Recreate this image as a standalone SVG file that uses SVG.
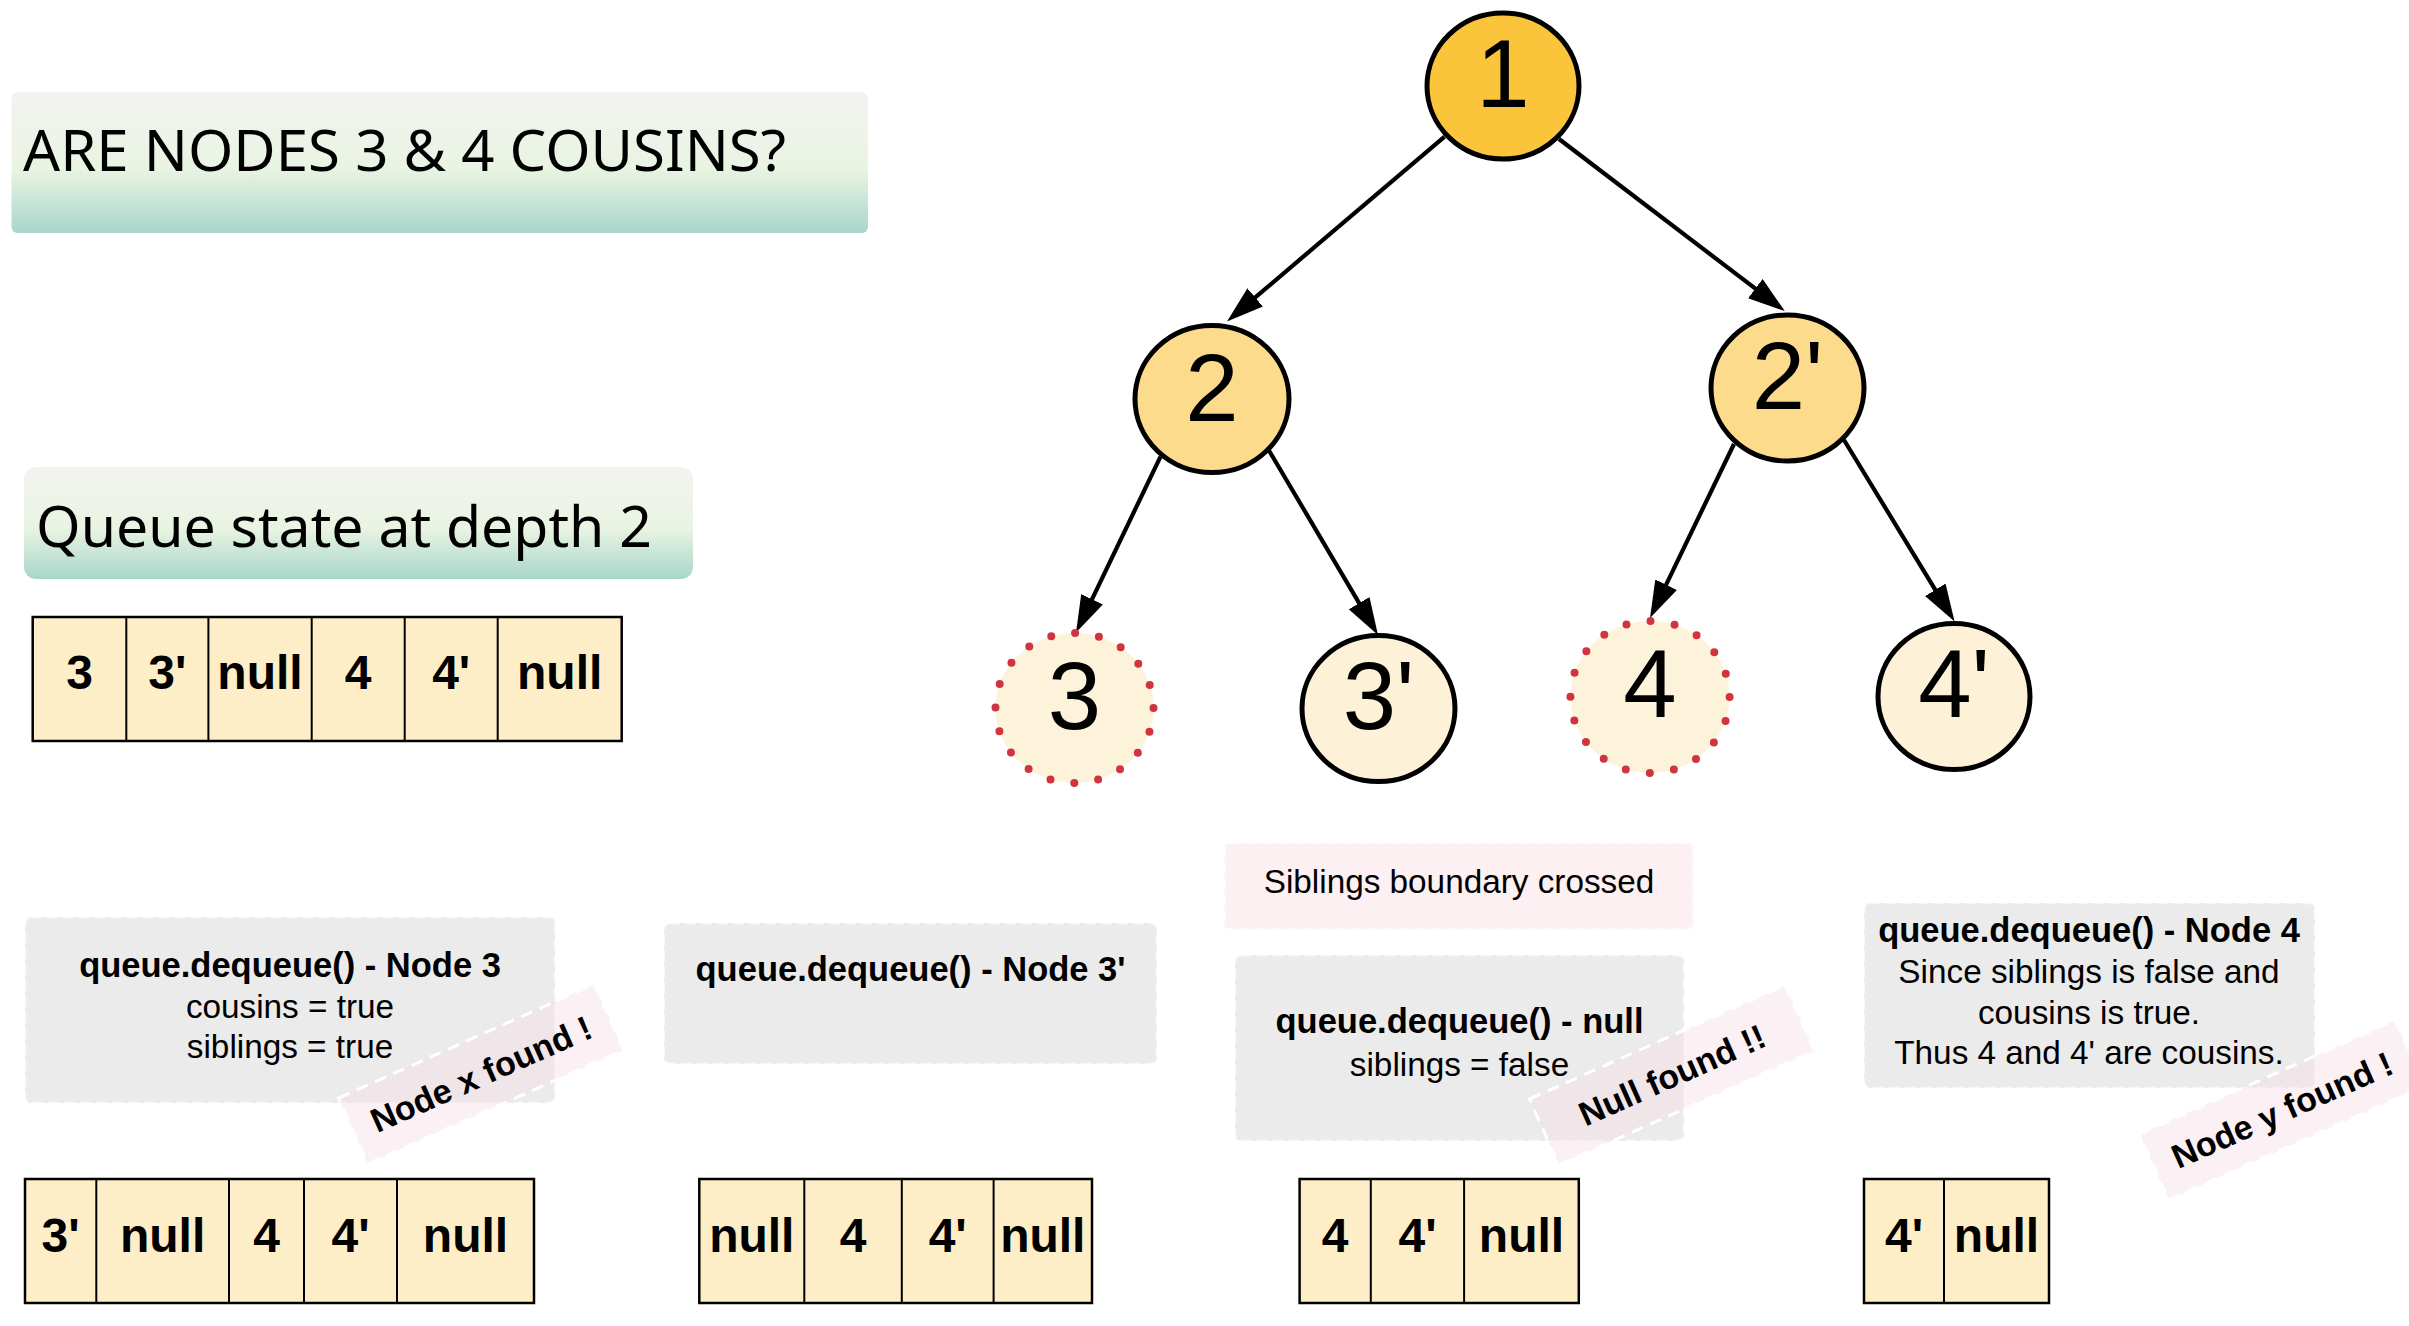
<svg xmlns="http://www.w3.org/2000/svg" width="2409" height="1326" viewBox="0 0 2409 1326">
<defs>
<linearGradient id="hdrGrad" x1="0" y1="0" x2="0" y2="1">
<stop offset="0" stop-color="#F3F3F1"/>
<stop offset="0.55" stop-color="#E9F4E2"/>
<stop offset="1" stop-color="#A7D6CB"/>
</linearGradient>
<marker id="arrow" markerUnits="userSpaceOnUse" markerWidth="38" markerHeight="24" viewBox="0 0 38 24" refX="29" refY="12" orient="auto">
<path d="M0,0 L37,12 L0,24 Z" fill="#000"/>
</marker>
</defs>
<style>
.hdr{font-family:"Noto Sans","Open Sans",sans-serif;font-size:56px;fill:#000}
.hdrbox{fill:url(#hdrGrad)}
.lbl{font-family:"Liberation Sans",Arial,sans-serif;font-size:96px;text-anchor:middle;fill:#000}
.solid{stroke:#000;stroke-width:5}
.dotted{fill:#FDF3DA;stroke:#D0343F;stroke-width:8;stroke-linecap:round}
.edge{stroke:#000;stroke-width:4.2;fill:none;marker-end:url(#arrow)}
.q rect{fill:#FDEEC8;stroke:#000;stroke-width:2.5}
.q line{stroke:#000;stroke-width:2}
.qt{font-family:"Liberation Sans",Arial,sans-serif;font-weight:bold;font-size:48px;text-anchor:middle;fill:#000}
.box{fill:#EBEBEB;stroke:#FFFFFF;stroke-opacity:0.7;stroke-width:2.5;stroke-dasharray:10 6}
.pinkbox{fill:#FCF0F3;stroke:#FFFFFF;stroke-opacity:0.7;stroke-width:2.5;stroke-dasharray:10 6}
.b{font-family:"Liberation Sans",Arial,sans-serif;font-weight:bold;font-size:34.5px;text-anchor:middle;fill:#000}
.r{font-family:"Liberation Sans",Arial,sans-serif;font-size:33.3px;text-anchor:middle;fill:#000}
.tag rect{fill:#F7DDE5;fill-opacity:0.45;stroke:#FFFFFF;stroke-width:3;stroke-dasharray:12 8}
.tag text{font-family:"Liberation Sans",Arial,sans-serif;font-weight:bold;font-size:34px;text-anchor:middle;fill:#000}
</style>

<rect width="2409" height="1326" fill="#FFFFFF"/>

<g id="title">
<rect class="hdrbox" x="11.5" y="92" width="856.5" height="141" rx="6"/>
<text class="hdr" x="23" y="171" textLength="763" lengthAdjust="spacingAndGlyphs">ARE NODES 3 &amp; 4 COUSINS?</text>
</g>

<g id="queue-state-title">
<rect class="hdrbox" x="24" y="467" width="669" height="112" rx="12"/>
<text class="hdr" x="36" y="547" textLength="616" lengthAdjust="spacingAndGlyphs">Queue state at depth 2</text>
</g>

<g id="connectors">
<line class="edge" x1="1444.6" y1="136.7" x2="1233.1" y2="316.2"/>
<line class="edge" x1="1559" y1="139" x2="1778.4" y2="306.2"/>
<line class="edge" x1="1160.5" y1="456.6" x2="1079.5" y2="625.4"/>
<line class="edge" x1="1269" y1="450.5" x2="1373.9" y2="628.1"/>
<line class="edge" x1="1734" y1="444" x2="1653.5" y2="610.8"/>
<line class="edge" x1="1844" y1="440" x2="1950.4" y2="614.6"/>
</g>

<g id="node-1">
<ellipse class="solid" cx="1503" cy="86" rx="76" ry="73" fill="#FBC53B"/>
<text class="lbl" x="1503" y="107">1</text>
</g>
<g id="node-2">
<ellipse class="solid" cx="1212" cy="399" rx="77" ry="73.5" fill="#FDDB8C"/>
<text class="lbl" x="1212" y="420.5">2</text>
</g>
<g id="node-2p">
<ellipse class="solid" cx="1787.5" cy="388" rx="76.5" ry="73" fill="#FDDB8C"/>
<text class="lbl" x="1787.5" y="409">2'</text>
</g>
<g id="node-3">
<ellipse class="dotted" cx="1074.5" cy="708" rx="79" ry="75" stroke-dasharray="0 24.195"/>
<text class="lbl" x="1074.5" y="729">3</text>
</g>
<g id="node-3p">
<ellipse class="solid" cx="1378.5" cy="708.6" rx="76.5" ry="73" fill="#FDF2D8"/>
<text class="lbl" x="1378.5" y="729">3'</text>
</g>
<g id="node-4">
<ellipse class="dotted" cx="1650" cy="697" rx="79.6" ry="76" stroke-dasharray="0 24.44"/>
<text class="lbl" x="1650" y="717">4</text>
</g>
<g id="node-4p">
<ellipse class="solid" cx="1954" cy="696.5" rx="76" ry="73" fill="#FDF2D8"/>
<text class="lbl" x="1954" y="717">4'</text>
</g>

<g id="queue-depth2" class="q">
<rect x="32.7" y="617" width="589" height="124"/>
<line x1="126.3" y1="617" x2="126.3" y2="741"/>
<line x1="208.4" y1="617" x2="208.4" y2="741"/>
<line x1="311.7" y1="617" x2="311.7" y2="741"/>
<line x1="404.7" y1="617" x2="404.7" y2="741"/>
<line x1="497.7" y1="617" x2="497.7" y2="741"/>
<text class="qt" x="79.5" y="689">3</text>
<text class="qt" x="167.4" y="689">3'</text>
<text class="qt" x="260" y="689">null</text>
<text class="qt" x="358.2" y="689">4</text>
<text class="qt" x="451.2" y="689">4'</text>
<text class="qt" x="559.7" y="689">null</text>
</g>

<g id="step-1">
<rect class="box" x="25" y="917" width="530" height="186" rx="6"/>
<text class="b" x="290" y="977">queue.dequeue() - Node 3</text>
<text class="r" x="290" y="1018">cousins = true</text>
<text class="r" x="290" y="1058">siblings = true</text>
</g>
<g id="step-2">
<rect class="box" x="664" y="923" width="493" height="141" rx="6"/>
<text class="b" x="910.5" y="981">queue.dequeue() - Node 3'</text>
</g>
<g id="siblings-note">
<rect class="pinkbox" x="1224.5" y="843" width="469" height="86.5" rx="4"/>
<text class="r" x="1459" y="893">Siblings boundary crossed</text>
</g>
<g id="step-3">
<rect class="box" x="1235" y="955" width="449" height="186" rx="6"/>
<text class="b" x="1459.5" y="1033">queue.dequeue() - null</text>
<text class="r" x="1459.5" y="1076">siblings = false</text>
</g>
<g id="step-4">
<rect class="box" x="1864" y="903" width="451" height="185" rx="6"/>
<text class="b" x="2089" y="942">queue.dequeue() - Node 4</text>
<text class="r" x="2089" y="983">Since siblings is false and</text>
<text class="r" x="2089" y="1023.5">cousins is true.</text>
<text class="r" x="2089" y="1064">Thus 4 and 4' are cousins.</text>
</g>

<g id="tag-x" class="tag" transform="translate(481,1074) rotate(-24)">
<rect x="-140" y="-36" width="280" height="72"/>
<text x="0" y="12">Node x found !</text>
</g>
<g id="tag-null" class="tag" transform="translate(1672,1075) rotate(-24)">
<rect x="-140" y="-36" width="280" height="72"/>
<text x="0" y="12">Null found !!</text>
</g>
<g id="tag-y" class="tag" transform="translate(2282,1110) rotate(-24)">
<rect x="-140" y="-36" width="280" height="72"/>
<text x="0" y="12">Node y found !</text>
</g>

<g id="queue-1" class="q">
<rect x="25" y="1179" width="509" height="124"/>
<line x1="96.3" y1="1179" x2="96.3" y2="1303"/>
<line x1="229" y1="1179" x2="229" y2="1303"/>
<line x1="304" y1="1179" x2="304" y2="1303"/>
<line x1="397" y1="1179" x2="397" y2="1303"/>
<text class="qt" x="60.6" y="1252">3'</text>
<text class="qt" x="162.6" y="1252">null</text>
<text class="qt" x="266.5" y="1252">4</text>
<text class="qt" x="350.5" y="1252">4'</text>
<text class="qt" x="465.5" y="1252">null</text>
</g>
<g id="queue-2" class="q">
<rect x="699.3" y="1179" width="392.7" height="124"/>
<line x1="804.3" y1="1179" x2="804.3" y2="1303"/>
<line x1="901.8" y1="1179" x2="901.8" y2="1303"/>
<line x1="993.6" y1="1179" x2="993.6" y2="1303"/>
<text class="qt" x="751.8" y="1252">null</text>
<text class="qt" x="853" y="1252">4</text>
<text class="qt" x="947.7" y="1252">4'</text>
<text class="qt" x="1042.8" y="1252">null</text>
</g>
<g id="queue-3" class="q">
<rect x="1299.6" y="1179" width="279.2" height="124"/>
<line x1="1370.8" y1="1179" x2="1370.8" y2="1303"/>
<line x1="1464.1" y1="1179" x2="1464.1" y2="1303"/>
<text class="qt" x="1335.2" y="1252">4</text>
<text class="qt" x="1417.5" y="1252">4'</text>
<text class="qt" x="1521.5" y="1252">null</text>
</g>
<g id="queue-4" class="q">
<rect x="1864" y="1179" width="185" height="124"/>
<line x1="1944" y1="1179" x2="1944" y2="1303"/>
<text class="qt" x="1904" y="1252">4'</text>
<text class="qt" x="1996.5" y="1252">null</text>
</g>
</svg>
